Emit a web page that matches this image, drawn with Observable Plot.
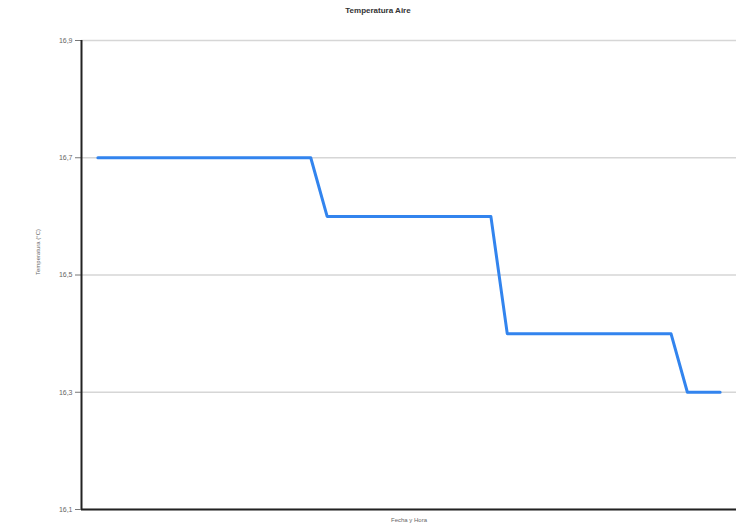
<!DOCTYPE html>
<html>
<head>
<meta charset="utf-8">
<script src="https://cdn.jsdelivr.net/npm/d3@7"></script>
<script src="https://cdn.jsdelivr.net/npm/@observablehq/plot@0.6"></script>
<style>
  body { margin: 0; background: #fff; font-family: "Liberation Sans", Arial, sans-serif; }
  #title { height: 22px; line-height: 22px; font-size: 8px; font-weight: bold; text-align: center; padding-left: 20px; color: #333; }
</style>
</head>
<body>
<div id="title">Temperatura Aire</div>
<div id="chart"></div>
<script>
const sampleIndex = [0,1,2,3,4,5,6,7,8,9,10,11,12,13,14,15,16,17,18,19,20,21,22,23,24,25,26,27,28,29,30,31,32,33,34,35,36,37,38];
const temperatura = [16.7,16.7,16.7,16.7,16.7,16.7,16.7,16.7,16.7,16.7,16.7,16.7,16.7,16.7,
                     16.6,16.6,16.6,16.6,16.6,16.6,16.6,16.6,16.6,16.6,16.6,
                     16.4,16.4,16.4,16.4,16.4,16.4,16.4,16.4,16.4,16.4,16.4,
                     16.3,16.3,16.3];
const yTicks = [16.1, 16.3, 16.5, 16.7, 16.9];
const yLabel = "Temperatura (°C)";
const xLabel = "Fecha y Hora";

const data = sampleIndex.map((i, k) => ({i, t: temperatura[k]}));
const fmt = v => v.toFixed(1).replace(".", ",");

const chart = Plot.plot({
  width: 736,
  height: 505,
  marginLeft: 81,
  marginRight: 0,
  marginTop: 18,
  marginBottom: 18,
  style: {fontFamily: "Liberation Sans, Arial, sans-serif", background: "#fff"},
  x: {domain: [-1, 39], axis: null},
  y: {domain: [16.1, 16.9], axis: null},
  marks: [
    Plot.gridY(yTicks, {stroke: "#d6d6d6", strokeOpacity: 1, strokeWidth: 1.5}),
    Plot.axisY(yTicks, {tickFormat: fmt, tickSize: 6, fontSize: 7, stroke: "#777", fill: "#666", label: null}),
    Plot.lineY(data, {x: "i", y: "t", stroke: "#3284ee", strokeWidth: 3}),
    Plot.ruleX([-1], {stroke: "#222", strokeWidth: 2}),
    Plot.ruleY([16.1], {stroke: "#222", strokeWidth: 2}),
    Plot.text([yLabel], {frameAnchor: "left", rotate: -90, dx: -43, fontSize: 6, fill: "#666"}),
    Plot.text([xLabel], {frameAnchor: "bottom", dy: 12, fontSize: 6, fill: "#666"})
  ]
});
document.getElementById("chart").appendChild(chart);
</script>
</body>
</html>
